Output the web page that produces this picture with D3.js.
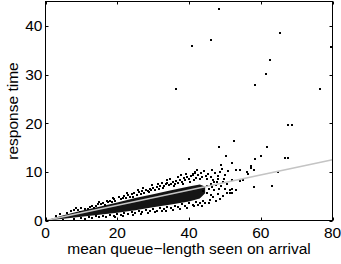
<!DOCTYPE html>
<html><head><meta charset="utf-8">
<script src="https://cdn.jsdelivr.net/npm/d3@7"></script>
<style>body{margin:0;background:#fff}svg{display:block}text{font-family:"Liberation Sans",Arial,Helvetica,sans-serif;fill:#000}</style>
</head><body><svg id="c" width="341" height="264"></svg>
<script>
const xTicks = [0, 20, 40, 60, 80];
const yTicks = [0, 10, 20, 30, 40];
const xLabel = "mean queue\u2212length seen on arrival";
const yLabel = "response time";

// dense core of the cloud (lower / upper envelope)
const coreX = [0, 5, 10, 15, 20, 25, 30, 35, 40, 43, 44.5];
const coreLo = [0, 0.35, 0.75, 1.2, 1.6, 2.1, 2.7, 3.3, 3.9, 4.5, 5.6];
const coreHi = [0, 1.1, 2.0, 2.8, 3.7, 4.6, 5.4, 6.2, 7.0, 7.4, 7.0];

// individual points (x = mean queue length, y = response time)
const ptX = [
 3,4,6,7,8,8.5,9,10,11,11.9,12.5,13,14,14.5,15.5,16,17.1,17.5,18,18.5,19,19.5,20.4,21,21.5,22,22.5,23,23.5,24,24.7,25.5,26,26.5,27,27.5,28,28.5,29,29.5,30,30.5,31,31.5,32,32.4,33,33.5,34,34.5,35,35.5,36,36.5,37,37.5,38,38.5,39,39.5,40,40.5,41.2,41.7,42,42.5,43,43.5,44.6,45,46,46.8,47.3,48.6,48.9,49.2,50.3,51.9,
 5,8,10,12,14,16,17,18,19,20,21,22,23,24,25,26,27,28,29,30,31,32,33,34,35,36,37,38,39,40,41,42,43,44,44.9,46.7,48.7,45.5,47,48,49,50,51.4,51.4,52.1,51.9,53.2,52.1,54.2,55.1,58.1,63.2,
 44,45,45.5,46,46.5,47,47.5,48,48.5,49.5,50,50.5,41,41.7,
 9.5,13.5,15,16.5,18.8,22.8,24.3,25.8,27.3,28.8,29.7,31.3,32.8,33.8,34.8,35.8,36.8,37.8,38.3,39.3,40.3,41.5,42.3,43.3,44.2,45.4,46.3,47.7,48.2,49.8,50.8,
 11,13,15,19.5,21.5,24.5,26.5,28.5,30.5,32.5,33.5,35.5,37.5,39.5,41.5,42.5,43.5,44.5,45.8,46.2,47.5,49.5,50.5,
 48.3,40.7,46.1,65.5,36.3,58.4,61.5,62.7,76.6,67.6,68.7,79.6,66.7,67.7,52.6,61.8,60,58.4,57.2,57.4,58.1,56.2,56.5,53,54.1,64.9,40.1,48.3
];
const ptY = [
 1.0,1.3,1.6,1.9,2.2,2.5,2.1,2.5,2.3,2.4,2.8,3.0,2.9,3.4,3.3,3.6,4.0,3.7,4.1,3.9,4.4,4.1,4.9,4.5,4.7,5.0,4.6,5.2,4.9,5.4,5.7,5.3,5.8,5.5,6.0,5.7,6.3,6.0,6.5,6.2,6.7,6.3,6.9,6.5,7.1,7.7,7.0,7.4,7.8,7.2,7.6,8.0,7.5,8.2,7.8,8.4,8.0,8.7,8.3,8.9,8.5,9.1,9.6,10.0,8.8,9.3,8.6,9.0,9.2,8.5,8.9,8.4,9.8,9.9,11.5,10.6,13.2,11.8,
 0.2,0.4,0.5,0.7,0.9,1.0,0.8,1.2,1.0,1.3,1.1,1.5,1.3,1.7,1.5,1.9,1.7,2.1,1.9,2.3,2.0,2.6,2.3,2.8,2.6,3.0,2.7,3.3,3.0,3.5,3.2,3.8,3.5,4.1,5.7,4.9,4.5,3.6,6.2,5.5,7.0,6.4,5.7,6.2,5.7,6.5,6.2,8.4,8.1,8.3,6.8,7.1,
 6.0,7.0,6.5,7.5,6.8,8.0,7.2,8.5,6.4,8.0,9.3,7.5,9.4,9.8,
 1.8,2.5,3.9,3.1,4.6,5.6,4.9,6.3,6.7,5.9,7.2,7.5,6.6,8.3,8.6,7.1,8.9,9.3,7.6,9.6,7.9,8.4,10.4,9.8,10.2,9.6,10.4,8.0,9.2,8.6,10.1,
 0.4,0.6,0.7,0.7,0.9,1.2,1.4,1.6,1.8,2.0,1.9,2.2,2.4,2.6,2.9,3.1,3.0,3.5,4.2,5.3,4.0,5.0,5.6,
 43.4,35.9,37.0,38.5,27.0,27.9,30.2,32.9,27.1,19.6,19.6,35.7,12.9,12.9,16.4,15.1,13.2,12.7,11.1,10.7,10.3,9.9,9.6,10.3,10.3,9.9,12.7,15.1
];

// fitted line
const lineX = [0, 80];
const lineY = [0, 12.5];

const svg = d3.select("#c");
const L = 45.5, R = 332.5, T = 1.5, B = 220.5;
const x = d3.scaleLinear().domain([0, 80]).range([L, R]);
const y = d3.scaleLinear().domain([0, 45]).range([B, T]);

const g = svg.append("g");
g.append("path")
  .datum(coreX.map((d, i) => [d, coreLo[i], coreHi[i]]))
  .attr("fill", "#151515")
  .attr("d", d3.area().x(d => x(d[0])).y0(d => y(d[1])).y1(d => y(d[2])));

g.selectAll("rect.pt").data(ptX.map((d, i) => [d, ptY[i]])).join("rect")
  .attr("class", "pt")
  .attr("x", d => Math.round(x(d[0])) - 1).attr("y", d => Math.round(y(d[1])) - 1)
  .attr("width", 2).attr("height", 2).attr("fill", "#000");

g.append("path")
  .datum(lineX.map((d, i) => [d, lineY[i]]))
  .attr("fill", "none").attr("stroke", "#c4c4c4").attr("stroke-width", 1.6)
  .attr("d", d3.line().x(d => x(d[0])).y(d => y(d[1])));

// box
svg.append("rect").attr("x", L).attr("y", T).attr("width", R - L).attr("height", B - T)
  .attr("fill", "none").attr("stroke", "#000").attr("stroke-width", 1);

const tk = 3;
xTicks.forEach(t => {
  const px = Math.round(x(t)) + 0.5;
  svg.append("line").attr("x1", px).attr("x2", px).attr("y1", B).attr("y2", B - tk).attr("stroke", "#000");
  svg.append("line").attr("x1", px).attr("x2", px).attr("y1", T).attr("y2", T + tk).attr("stroke", "#000");
  svg.append("text").attr("x", x(t)).attr("y", 237.5).attr("text-anchor", "middle")
    .attr("font-size", "15.5px").text(t);
});
yTicks.forEach(t => {
  const py = Math.round(y(t)) + 0.5;
  svg.append("line").attr("x1", L).attr("x2", L + tk).attr("y1", py).attr("y2", py).attr("stroke", "#000");
  svg.append("line").attr("x1", R).attr("x2", R - tk).attr("y1", py).attr("y2", py).attr("stroke", "#000");
  svg.append("text").attr("x", 42.5).attr("y", y(t) + 5.5).attr("text-anchor", "end")
    .attr("font-size", "15.5px").text(t);
});

svg.append("text").attr("x", (L + R) / 2).attr("y", 253.5).attr("text-anchor", "middle")
  .attr("font-size", "15.5px").text(xLabel);
svg.append("text").attr("transform", "translate(17.5," + ((T + B) / 2) + ") rotate(-90)")
  .attr("text-anchor", "middle").attr("font-size", "15.5px").text(yLabel);
</script></body></html>
